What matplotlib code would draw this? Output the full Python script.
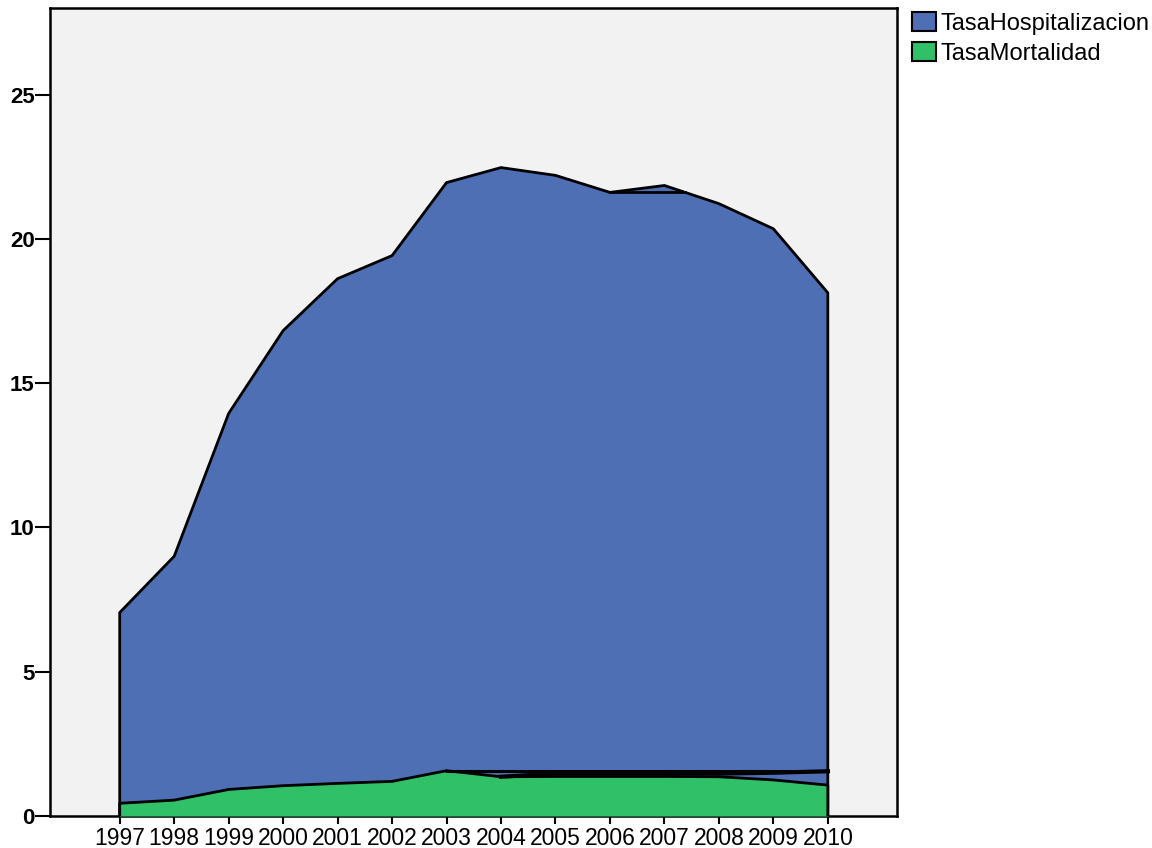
import numpy as np
import matplotlib
matplotlib.use("Agg")
import matplotlib.pyplot as plt
from matplotlib.patches import Patch

years = [1997, 1998, 1999, 2000, 2001, 2002, 2003, 2004, 2005, 2006, 2007, 2008, 2009, 2010]
tasa_hosp = [7.05, 9.0, 13.95, 16.82, 18.62, 19.42, 21.95, 22.47, 22.2, 21.61, 21.85, 21.22, 20.35, 18.13]
tasa_mort = [0.44, 0.55, 0.92, 1.05, 1.13, 1.2, 1.57, 1.36, 1.37, 1.37, 1.37, 1.36, 1.25, 1.07]
# extra reference lines drawn by the original software
aux_years = [2004, 2005, 2006, 2007, 2008, 2009, 2010]
aux_vals = [1.36, 1.47, 1.47, 1.47, 1.47, 1.5, 1.55]
flat_mort_years = [2003, 2010]
flat_mort_vals = [1.56, 1.56]

BLUE = "#4F6FB5"
GREEN = "#2FC068"
BG = "#F2F2F2"

plt.rcParams['font.family'] = ['Liberation Sans', 'DejaVu Sans']

fig = plt.figure(figsize=(11.52, 8.48), dpi=100)
ax = fig.add_axes([50/1152, 1-816/848, (897-50)/1152, (816-8)/848])
ax.set_facecolor(BG)

x = np.array(years, dtype=float)
h = np.array(tasa_hosp)
m = np.array(tasa_mort)

ax.fill_between(x, 0, h, color=BLUE, lw=0, zorder=2)
ax.plot(np.r_[x[0], x, x[-1]], np.r_[0, h, 0], color="black", lw=2, zorder=3)
# flat artifact line at 2006 level up to where outline crosses it
y6 = h[years.index(2006)]
i7 = years.index(2007)
t = (h[i7] - y6) / (h[i7] - h[i7 + 1])
ax.plot([2006, 2007 + t], [y6, y6], color="black", lw=2, zorder=3)

ax.fill_between(x, 0, m, color=GREEN, lw=0, zorder=4)
ax.plot(np.r_[x[0], x, x[-1]], np.r_[0, m, 0], color="black", lw=2, zorder=5)
ax.plot(aux_years, aux_vals, color="black", lw=3, zorder=5)
ax.plot(flat_mort_years, flat_mort_vals, color="black", lw=2.2, zorder=5)

ax.set_xlim(1995.72, 2011.27)
ax.set_ylim(0, 28)
ax.set_xticks(years)
ax.set_xticklabels([str(y) for y in years], fontsize=16.5)
ax.set_yticks([0, 5, 10, 15, 20, 25])
ax.set_yticklabels(["0", "5", "10", "15", "20", "25"], fontsize=16, fontweight="bold")
ax.tick_params(axis="y", length=11, width=1.5, pad=0, direction="out")
ax.tick_params(axis="x", length=6, width=1.5, pad=2, direction="out")
for s in ax.spines.values():
    s.set_linewidth(1.8)
    s.set_color("black")

handles = [Patch(facecolor=BLUE, edgecolor="black", lw=1.5, label="TasaHospitalizacion"),
           Patch(facecolor=GREEN, edgecolor="black", lw=1.5, label="TasaMortalidad")]
fig.legend(handles=handles, loc="upper left", bbox_to_anchor=(910/1152, 1-10/848),
           frameon=False, fontsize=17, handlelength=1.0, handleheight=0.85,
           handletextpad=0.2, labelspacing=0.3, borderaxespad=0, borderpad=0.1)

fig.savefig("out.png", dpi=100)
